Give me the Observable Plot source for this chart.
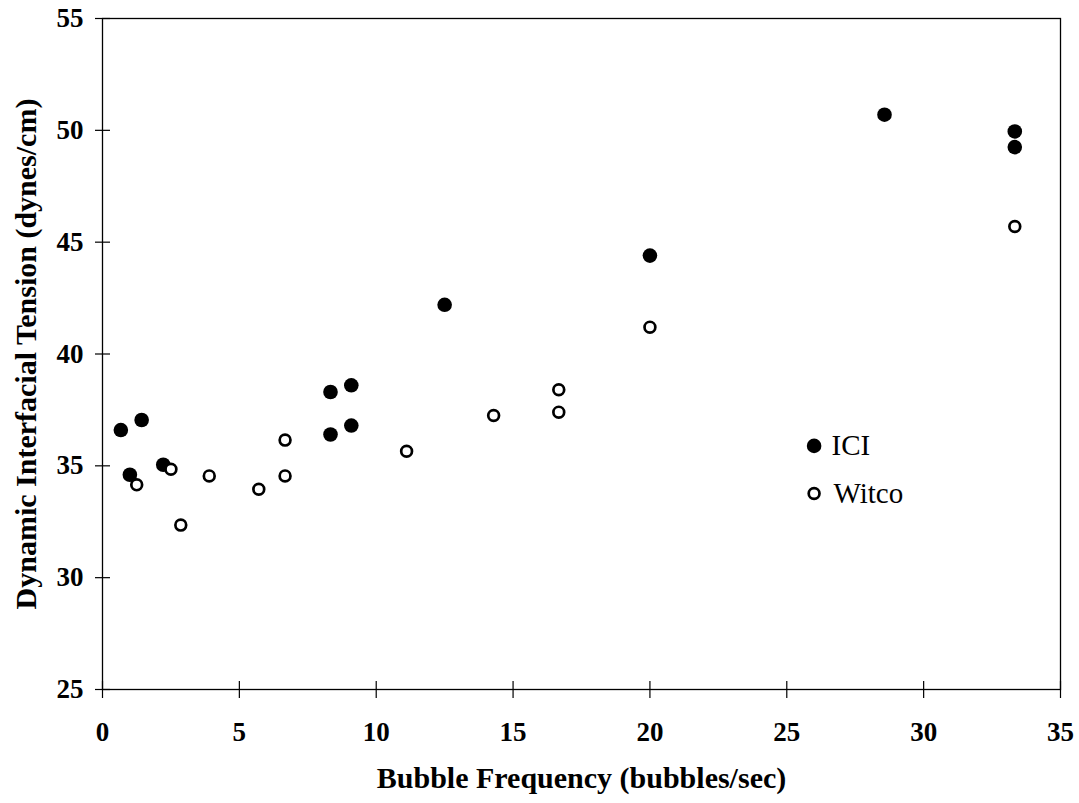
<!DOCTYPE html>
<html>
<head>
<meta charset="utf-8">
<script src="https://cdn.jsdelivr.net/npm/d3@7"></script>
<script src="https://cdn.jsdelivr.net/npm/@observablehq/plot@0.6"></script>
<style>
  html, body { margin: 0; padding: 0; background: #fff; }
  #chart svg { display: block; }
</style>
</head>
<body>
<div id="chart"></div>
<script>
const seriesNames = ["ICI", "Witco"];
const iciX = [0.67, 1.0, 1.43, 2.22, 8.33, 8.33, 9.09, 9.09, 12.5, 20.0, 28.57, 33.33, 33.33];
const iciY = [36.6, 34.6, 37.05, 35.05, 38.3, 36.4, 38.6, 36.8, 42.2, 44.4, 50.7, 49.95, 49.25];
const witcoX = [1.25, 2.5, 2.86, 3.9, 5.71, 6.67, 6.67, 11.11, 14.29, 16.67, 16.67, 20.0, 33.33];
const witcoY = [34.15, 34.85, 32.35, 34.55, 33.95, 36.15, 34.55, 35.65, 37.25, 37.4, 38.4, 41.2, 45.7];
const xTicks = [0, 5, 10, 15, 20, 25, 30, 35];
const yTicks = [25, 30, 35, 40, 45, 50, 55];
const xDomain = [0, 35];
const yDomain = [25, 55];
const xTitle = "Bubble Frequency (bubbles/sec)";
const yTitle = "Dynamic Interfacial Tension (dynes/cm)";

const ici = iciX.map((x, i) => ({x, y: iciY[i]}));
const witco = witcoX.map((x, i) => ({x, y: witcoY[i]}));

const chart = Plot.plot({
  width: 1079,
  height: 803,
  marginLeft: 102,
  marginRight: 19,
  marginTop: 18,
  marginBottom: 114,
  style: {fontFamily: "'Liberation Serif', 'Times New Roman', serif", background: "#fff", color: "#000"},
  x: {domain: xDomain, ticks: xTicks},
  y: {domain: yDomain, ticks: yTicks},
  marks: [
    Plot.frame({stroke: "#000", strokeWidth: 1.3}),
    // crossing tick marks
    Plot.ruleY(yTicks, {y: d => d, x1: xDomain[0], x2: xDomain[0], insetLeft: -7, insetRight: -8, stroke: "#000", strokeWidth: 1.2}),
    Plot.ruleX(xTicks, {x: d => d, y1: yDomain[0], y2: yDomain[0], insetTop: -8, insetBottom: -9, stroke: "#000", strokeWidth: 1.2}),
    Plot.axisX({ticks: xTicks, tickSize: 0, tickPadding: 32, label: null, fontSize: 27, fontWeight: "bold"}),
    Plot.axisY({ticks: yTicks, tickSize: 0, tickPadding: 19, label: null, fontSize: 27, fontWeight: "bold"}),
    Plot.text([xTitle], {frameAnchor: "bottom", dy: 89, textAnchor: "middle", lineAnchor: "middle", fontSize: 30, fontWeight: "bold", text: d => d}),
    Plot.text([yTitle], {frameAnchor: "left", rotate: -90, dx: -76, textAnchor: "middle", lineAnchor: "middle", fontSize: 30, fontWeight: "bold", text: d => d}),
    Plot.dot(ici, {x: "x", y: "y", r: 7.3, fill: "#000", stroke: "none"}),
    Plot.dot(witco, {x: "x", y: "y", r: 5.4, fill: "#fff", stroke: "#000", strokeWidth: 2.7}),
    // legend
    Plot.dot([seriesNames[0]], {frameAnchor: "top-left", dx: 711.6, dy: 427.4, r: 7.3, fill: "#000"}),
    Plot.dot([seriesNames[1]], {frameAnchor: "top-left", dx: 711.6, dy: 475, r: 5.4, fill: "#fff", stroke: "#000", strokeWidth: 2.7}),
    Plot.text([seriesNames[0]], {frameAnchor: "top-left", dx: 729, dy: 427.4, text: d => d, textAnchor: "start", lineAnchor: "middle", fontSize: 29}),
    Plot.text([seriesNames[1]], {frameAnchor: "top-left", dx: 731, dy: 475, text: d => d, textAnchor: "start", lineAnchor: "middle", fontSize: 29})
  ]
});
document.getElementById("chart").appendChild(chart);
</script>
</body>
</html>
